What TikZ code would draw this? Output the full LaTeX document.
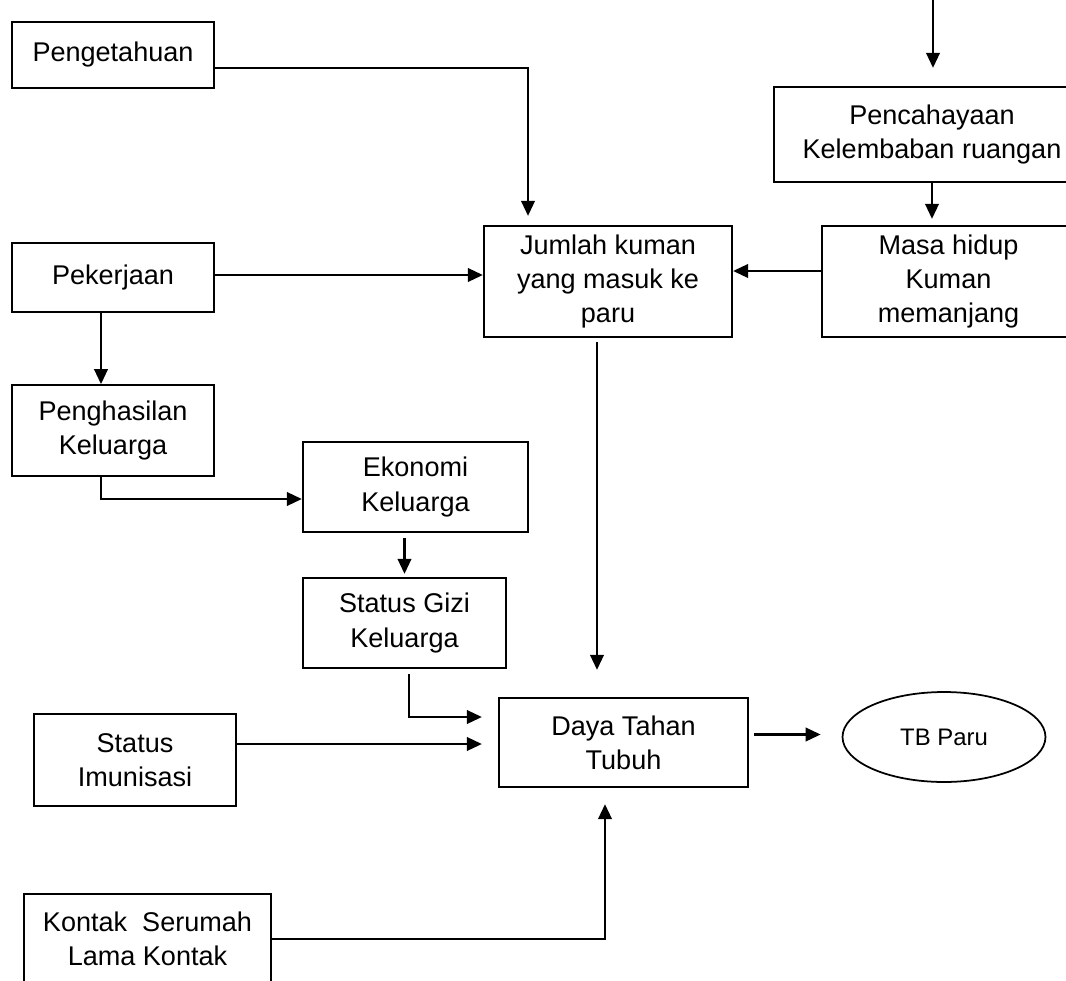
\documentclass[tikz,border=0pt]{standalone}
\usepackage{fontspec}
\setmainfont{Liberation Sans}
\usepackage{tikz}
\usetikzlibrary{arrows.meta}
\usetikzlibrary{positioning}
\usetikzlibrary{shapes.geometric}

\tikzset{
  box/.style={draw, line width=1.3pt, align=center, inner sep=0pt},
  arr/.style={line width=1.3pt, -{Triangle[length=0.3cm,width=0.27cm]}},
}

\begin{document}
\begin{tikzpicture}[x=0.02cm, y=-0.02cm,
    font=\fontsize{15.4pt}{19.4pt}\selectfont]
    \useasboundingbox (0,0) rectangle (1066,981);
    \clip (0,0) rectangle (1066,981);

    % left column
    \node[box, minimum width=4.04cm, minimum height=1.32cm] (peng) at (113,55) {Pengetahuan};
    \node[box, minimum width=4.04cm, minimum height=1.38cm] (pek) at (113,277.5) {Pekerjaan};
    \node[box, minimum width=4.04cm, minimum height=1.82cm, below=1.42cm of pek] (hasil) {Penghasilan\\Keluarga};
    \node[box, minimum width=4.5cm, minimum height=1.8cm] (eko) at (415.5,487) {Ekonomi\\Keluarga};
    \node[box, minimum width=4.06cm, minimum height=1.8cm] (gizi) at (404.5,623) {Status Gizi\\Keluarga};
    \node[box, minimum width=4.04cm, minimum height=1.84cm] (imun) at (135,760) {Status\\Imunisasi};
    \node[box, minimum width=4.94cm, minimum height=1.8cm] (kontak) at (147.5,939) {Kontak\ \ Serumah\\Lama Kontak};

    % middle and right
    \node[box, minimum width=4.96cm, minimum height=2.22cm] (jumlah) at (608,281.5) {Jumlah kuman\\yang masuk ke\\paru};
    \node[box, minimum width=6.32cm, minimum height=1.9cm] (pencah) at (932,134.5) {Pencahayaan\\Kelembaban ruangan};
    \node[box, minimum width=5.06cm, minimum height=2.22cm] (masa) at (948.5,281.5) {Masa hidup\\Kuman\\memanjang};
    \node[box, minimum width=4.98cm, minimum height=1.78cm] (daya) at (623.5,742.5) {Daya Tahan\\Tubuh};
    \node[draw, ellipse, line width=1pt, inner sep=0pt, minimum width=4.06cm, minimum height=1.8cm,
      font=\fontsize{13.6pt}{16pt}\selectfont] (tb) at (944,737) {TB Paru};

    \coordinate (src) at (933,0);

    % connectors
    \draw[arr, shorten >=0.36cm] (src) -- (src |- pencah.north);
    \draw[arr, shorten >=0.12cm] (pencah.south) -- (pencah.south |- masa.north);
    \draw[arr] ([yshift=0.21cm]masa.west) -- ([yshift=0.21cm]jumlah.east);
    \draw[arr] ([yshift=0.05cm]pek.east) -- ([yshift=0.05cm]pek.east -| jumlah.west);
    \draw[arr, shorten >=0.18cm] ([yshift=-0.26cm]peng.east) -| ([xshift=-1.6cm]jumlah.north);
    \draw[arr, shorten <=0.08cm, shorten >=0.54cm] ([xshift=-0.22cm]jumlah.south) -- ([xshift=-0.22cm]jumlah.south |- daya.north);
    \draw[arr] ([xshift=-0.24cm]pek.south) -- ([xshift=-0.24cm]hasil.north);
    \draw[arr] ([xshift=-0.24cm]hasil.south) |- ([yshift=-0.24cm]eko.west);
    \draw[arr, shorten <=0.1cm, shorten >=0.06cm] (gizi.north |- eko.south) -- (gizi.north);
    \draw[arr, shorten <=0.1cm, shorten >=0.32cm] ([xshift=0.09cm]gizi.south) |- ([yshift=0.51cm]daya.west);
    \draw[arr, shorten >=0.32cm] ([yshift=0.32cm]imun.east) -- ([yshift=0.32cm]imun.east -| daya.west);
    \draw[arr, shorten <=0.1cm, shorten >=0.42cm] ([yshift=0.16cm]daya.east) -- ([yshift=0.16cm]daya.east -| tb.west);
    \draw[arr, shorten >=0.32cm] (kontak.east) -| ([xshift=-0.37cm]daya.south);
\end{tikzpicture}
\end{document}
